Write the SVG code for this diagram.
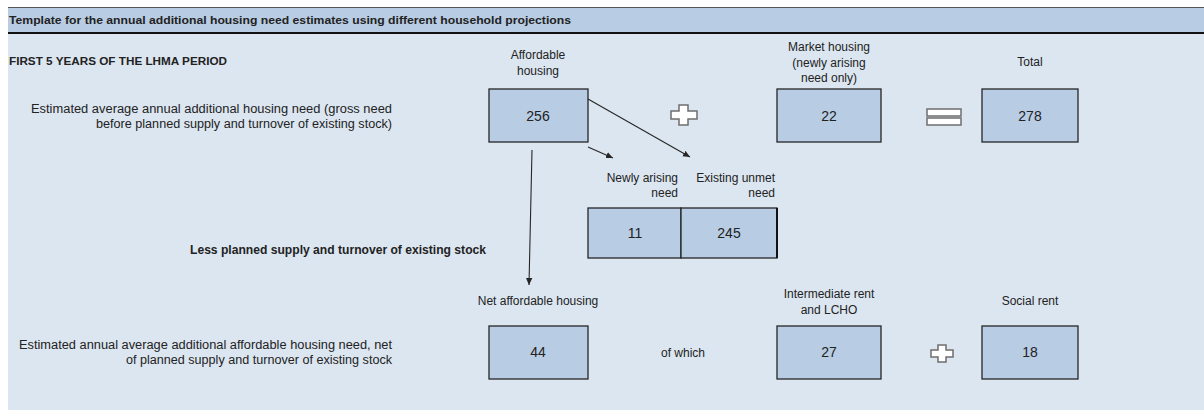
<svg xmlns="http://www.w3.org/2000/svg" width="1204" height="412" viewBox="0 0 1204 412">
<style>
text{font-family:"Liberation Sans",Arial,sans-serif;fill:#222;}
.lbl{font-size:12px;}
.num{font-size:14px;}
.b{font-weight:bold;}
.box{fill:#b8cce4;stroke:#262626;stroke-width:1.3;}
.con{stroke:#262626;stroke-width:1.1;fill:none;}
.sym{fill:#ffffff;stroke:#6e6e6e;stroke-width:1.5;}
</style>
<defs>
<marker id="ah" markerUnits="userSpaceOnUse" markerWidth="8" markerHeight="8" refX="7" refY="4" orient="auto">
<path d="M0,0.8 L7,4 L0,7.2 Z" fill="#262626"/>
</marker>
</defs>
<rect x="0" y="0" width="1204" height="412" fill="#ffffff"/>
<rect x="8" y="8" width="1196" height="402" fill="#dce6f1"/>
<g id="header">
<rect x="8" y="8" width="1196" height="24" fill="#b8cce4"/>
<line x1="8" y1="7.5" x2="1204" y2="7.5" stroke="#555" stroke-width="1.2"/>
<line x1="8" y1="33" x2="1204" y2="33" stroke="#111" stroke-width="2"/>
<text x="9" y="24" class="b" font-size="11" textLength="562" lengthAdjust="spacingAndGlyphs">Template for the annual additional housing need estimates using different household projections</text>
</g>
<g id="row-labels">
<text x="9" y="65" class="b" font-size="11" textLength="218" lengthAdjust="spacingAndGlyphs">FIRST 5 YEARS OF THE LHMA PERIOD</text>
<text x="392" y="113" class="lbl" text-anchor="end" textLength="361" lengthAdjust="spacingAndGlyphs">Estimated average annual additional housing need (gross need</text>
<text x="392" y="128" class="lbl" text-anchor="end" textLength="296" lengthAdjust="spacingAndGlyphs">before planned supply and turnover of existing stock)</text>
<text x="190" y="254" class="lbl b" textLength="296" lengthAdjust="spacingAndGlyphs">Less planned supply and turnover of existing stock</text>
<text x="392" y="349" class="lbl" text-anchor="end" textLength="373" lengthAdjust="spacingAndGlyphs">Estimated annual average additional affordable housing need, net</text>
<text x="392" y="364" class="lbl" text-anchor="end" textLength="266" lengthAdjust="spacingAndGlyphs">of planned supply and turnover of existing stock</text>
</g>
<g id="node-affordable">
<text x="538" y="59" class="lbl" text-anchor="middle">Affordable</text>
<text x="538" y="75" class="lbl" text-anchor="middle">housing</text>
<rect class="box" x="489" y="89" width="99" height="53"/>
<text x="538" y="121" class="num" text-anchor="middle">256</text>
</g>
<g id="node-market">
<text x="829" y="51" class="lbl" text-anchor="middle">Market housing</text>
<text x="829" y="67" class="lbl" text-anchor="middle">(newly arising</text>
<text x="829" y="82" class="lbl" text-anchor="middle">need only)</text>
<rect class="box" x="777" y="89" width="104" height="53"/>
<text x="829" y="121" class="num" text-anchor="middle">22</text>
</g>
<g id="node-total">
<text x="1030" y="66" class="lbl" text-anchor="middle">Total</text>
<rect class="box" x="982" y="89" width="96" height="53"/>
<text x="1030" y="121" class="num" text-anchor="middle">278</text>
</g>
<g id="sym-plus-top">
<path class="sym" d="M679,105 H688 V111 H697 V119 H688 V125 H679 V119 H671 V111 H679 Z"/>
</g>
<g id="sym-equals">
<rect class="sym" x="927" y="109" width="34" height="7"/>
<rect class="sym" x="927" y="118" width="34" height="7"/>
</g>
<g id="node-split">
<text x="678" y="182" class="lbl" text-anchor="end">Newly arising</text>
<text x="678" y="197" class="lbl" text-anchor="end">need</text>
<text x="775" y="182" class="lbl" text-anchor="end">Existing unmet</text>
<text x="775" y="197" class="lbl" text-anchor="end">need</text>
<rect class="box" x="588" y="208" width="93" height="50"/>
<rect class="box" x="681" y="208" width="96" height="50"/>
<line x1="777" y1="208" x2="777" y2="258" stroke="#111" stroke-width="2"/>
<text x="635" y="238" class="num" text-anchor="middle">11</text>
<text x="729" y="238" class="num" text-anchor="middle">245</text>
</g>
<g id="node-net">
<text x="538" y="305" class="lbl" text-anchor="middle">Net affordable housing</text>
<rect class="box" x="489" y="326" width="99" height="53"/>
<text x="538" y="357" class="num" text-anchor="middle">44</text>
</g>
<text x="683" y="357" class="lbl" text-anchor="middle">of which</text>
<g id="node-intermediate">
<text x="829" y="298" class="lbl" text-anchor="middle">Intermediate rent</text>
<text x="829" y="314" class="lbl" text-anchor="middle">and LCHO</text>
<rect class="box" x="777" y="326" width="104" height="53"/>
<text x="829" y="357" class="num" text-anchor="middle">27</text>
</g>
<g id="sym-plus-bottom">
<path class="sym" d="M938,345 H946 V350 H953 V357 H946 V362 H938 V357 H931 V350 H938 Z"/>
</g>
<g id="node-social">
<text x="1030" y="305" class="lbl" text-anchor="middle">Social rent</text>
<rect class="box" x="982" y="326" width="96" height="53"/>
<text x="1030" y="357" class="num" text-anchor="middle">18</text>
</g>
<g id="connectors">
<line class="con" x1="532" y1="150" x2="529" y2="285" marker-end="url(#ah)"/>
<line class="con" x1="588" y1="147" x2="613" y2="158" marker-end="url(#ah)"/>
<line class="con" x1="588" y1="99" x2="690" y2="157" marker-end="url(#ah)"/>
</g>
</svg>
